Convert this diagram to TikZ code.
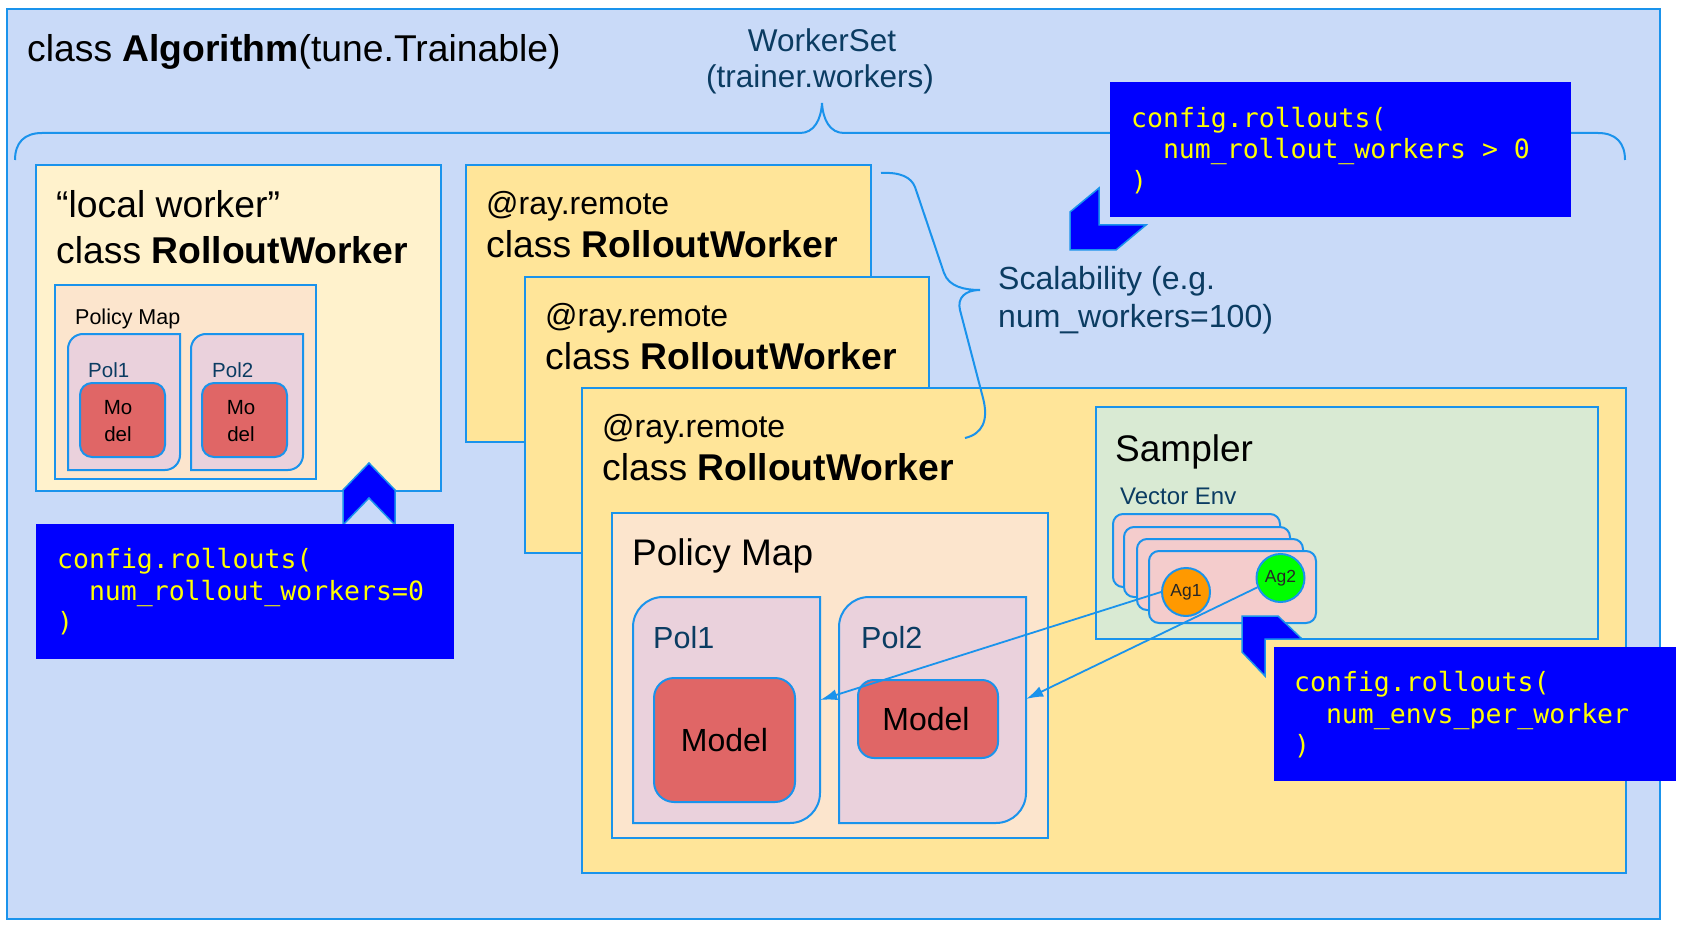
\documentclass[tikz,border=0pt]{standalone}
\usepackage{fontspec}
\setmainfont{Liberation Sans}
\newfontfamily\cfgfont{DejaVu Sans Mono}
\usetikzlibrary{arrows.meta,calc,fit}
\definecolor{bgblue}{HTML}{C9DAF8}
\definecolor{bblue}{HTML}{1A93EC}
\definecolor{lworker}{HTML}{FFF2CC}
\definecolor{rworker}{HTML}{FFE599}
\definecolor{pmapc}{HTML}{FCE5CD}
\definecolor{polc}{HTML}{EAD1DC}
\definecolor{modelc}{HTML}{E06666}
\definecolor{samplerc}{HTML}{D9EAD3}
\definecolor{envc}{HTML}{F4CCCC}
\definecolor{cfgblue}{HTML}{0000FF}
\definecolor{cfgyellow}{HTML}{FFFF00}
\definecolor{navy}{HTML}{0B3C62}
\definecolor{agone}{HTML}{FF9900}
\definecolor{agtwo}{HTML}{00FF00}
\newcommand\fsz[2]{\fontsize{#1pt}{#2pt}\selectfont}
% diagonal-rounded box: x1 y1 x2 y2 r
\newcommand\diagrbox[5]{%
  \draw[polsty] (#1,#4) -- (#1,{#2+#5}) .. controls (#1,{#2+0.448*#5}) and ({#1+0.448*#5},#2) .. ({#1+#5},#2)
   -- (#3,#2) -- (#3,{#4-#5}) .. controls (#3,{#4-0.448*#5}) and ({#3-0.448*#5},#4) .. ({#3-#5},#4) -- cycle;}
\tikzset{
  bd/.style={draw=bblue, line width=2pt},
  box/.style={bd, inner sep=0pt},
  txt/.style={inner sep=0pt, anchor=base west},
  navytxt/.style={txt, text=navy},
  cfgbox/.style={inner sep=0pt, fill=cfgblue},
  cfgtxt/.style={txt, text=cfgyellow, font=\cfgfont\fsz{26.5}{31}},
  chev/.style={draw=bblue, line width=1.5pt, fill=cfgblue, line join=miter},
  brace/.style={draw=bblue, line width=2pt},
  polsty/.style={bd, fill=polc},
  modelbox/.style={box, fill=modelc, rounded corners=#1},
  envbox/.style={box, fill=envc, rounded corners=10pt},
  arr/.style={draw=bblue, line width=1.8pt, -{Latex[length=17pt,width=11pt]}},
}
\begin{document}
\begin{tikzpicture}[x=1pt,y=-1pt]
\useasboundingbox (0,0) rectangle (1687,928);
% outer algorithm box
\node[box, fill=bgblue, line width=2.5pt, fit={(7,9) (1660,919)}] (outer) {};
% WorkerSet brace
\draw[brace] (15,160) .. controls (15,143) and (24,133) .. (42,133) -- (800,133)
  .. controls (814,133) and (821,120) .. (822,103)
  .. controls (823,120) and (830,133) .. (844,133) -- (1598,133)
  .. controls (1616,133) and (1625,143) .. (1625,160);
\node[txt, font=\fsz{37.3}{44}] (title) at (27,62) {class \textbf{Algorithm}(tune.Trainable)};
\node[inner sep=0pt, anchor=base, text=navy, font=\fsz{31.5}{37}] (ws1) at (822,52) {WorkerSet};
\node[inner sep=0pt, anchor=base, text=navy, font=\fsz{31.5}{37}] (ws2) at (820,88) {(trainer.workers)};

% local worker
\node[box, fill=lworker, fit={(36,165) (441,491)}] (local) {};
\node[txt, font=\fsz{37.3}{44}] (lw1) at (56,218) {“local worker”};
\node[txt, font=\fsz{37.3}{44}] (lw2) at (56,263) {class \textbf{RolloutWorker}};
\node[box, fill=pmapc, fit={(55,285) (316,479)}] (lpm) {};
\node[txt, font=\fsz{21.5}{25}] (lpmt) at (75,324) {Policy Map};
\diagrbox{68}{334}{180}{470}{15}
\node[inner sep=0pt, fit={(68,334) (180,470)}] (lpol1) {};
\diagrbox{191}{334}{303}{470}{15}
\node[inner sep=0pt, fit={(191,334) (303,470)}] (lpol2) {};
\node[navytxt, font=\fsz{20.5}{24}] (lpol1t) at (88,377) {Pol1};
\node[navytxt, font=\fsz{20.5}{24}] (lpol2t) at (212,377) {Pol2};
\node[modelbox=12pt, fit={(80,383) (165,457)}] (lmodel1) {};
\node[modelbox=12pt, fit={(202,383) (287,457)}] (lmodel2) {};
\node[inner sep=0pt, align=center, font=\fsz{20.5}{26.7}] (lm1t) at (118,421) {Mo\\del};
\node[inner sep=0pt, align=center, font=\fsz{20.5}{26.7}] (lm2t) at (241,421) {Mo\\del};

% config box 1 with chevron
\draw[chev] (343,490) -- (369,463) -- (395,490) -- (395,525) -- (369,498) -- (343,525) -- cycle;
\node[cfgbox, fit={(36,524) (454,659)}] (cfg1) {};
\node[cfgtxt] (cfg1a) at (57,568.5) {config.rollouts(};
\node[cfgtxt] (cfg1b) at (88.8,600) {num\_rollout\_workers=0};
\node[cfgtxt] (cfg1c) at (57,631.5) {)};

% remote workers
\node[box, fill=rworker, fit={(466,165) (871,442)}] (r1) {};
\node[txt, font=\fsz{32}{38}] (r1a) at (486,215) {@ray.remote};
\node[txt, font=\fsz{37.3}{44}] (r1b) at (486,258) {class \textbf{RolloutWorker}};
\node[box, fill=rworker, fit={(525,277) (929,553)}] (r2) {};
\node[txt, font=\fsz{32}{38}] (r2a) at (545,326) {@ray.remote};
\node[txt, font=\fsz{37.3}{44}] (r2b) at (545,369) {class \textbf{RolloutWorker}};
\node[box, fill=rworker, fit={(582,388) (1626,873)}] (r3) {};
\node[txt, font=\fsz{32}{38}] (r3a) at (602,437) {@ray.remote};
\node[txt, font=\fsz{37.3}{44}] (r3b) at (602,480) {class \textbf{RolloutWorker}};

% scalability brace and text
\draw[brace] (881,173) .. controls (900,172) and (911,177) .. (915,187) -- (944,273)
  .. controls (949,287) and (965,290) .. (980,290)
  .. controls (965,290) and (957,298) .. (960,310) -- (983,398)
  .. controls (989,421) and (982,434) .. (965,438);
\node[navytxt, font=\fsz{32}{38}] (sc1) at (998,290) {Scalability (e.g.};
\node[navytxt, font=\fsz{32}{38}] (sc2) at (998,327.5) {num\_workers=100)};

% config box 2 with chevron
\node[cfgbox, fit={(1110,82) (1571,217)}] (cfg2) {};
\node[cfgtxt] (cfg2a) at (1131,127.5) {config.rollouts(};
\node[cfgtxt] (cfg2b) at (1162.8,159) {num\_rollout\_workers > 0};
\node[cfgtxt] (cfg2c) at (1131,190.5) {)};
\draw[chev] (1070,212) -- (1099,188) -- (1099,225) -- (1146,225) -- (1116,250) -- (1070,250) -- cycle;

% big policy map
\node[box, fill=pmapc, fit={(612,513) (1048,838)}] (pm) {};
\node[txt, font=\fsz{37}{44}] (pmt) at (632,565) {Policy Map};
\diagrbox{633}{597}{820}{823}{30}
\node[inner sep=0pt, fit={(633,597) (820,823)}] (pol1) {};
\diagrbox{839}{597}{1026}{823}{30}
\node[inner sep=0pt, fit={(839,597) (1026,823)}] (pol2) {};
\node[navytxt, font=\fsz{30.5}{36}] (pol1t) at (653,648) {Pol1};
\node[navytxt, font=\fsz{30.5}{36}] (pol2t) at (861,648) {Pol2};
\node[modelbox=20pt, fit={(654,678) (795,802)}] (model1) {};
\node[inner sep=0pt, anchor=base, font=\fsz{32}{38}] (model1t) at (724.5,751.5) {Model};
\node[modelbox=16pt, fit={(858,680) (998,758)}] (model2) {};
\node[inner sep=0pt, anchor=base, font=\fsz{32}{38}] (model2t) at (926,730) {Model};

% sampler
\node[box, fill=samplerc, fit={(1096,407) (1598,639)}] (sampler) {};
\node[txt, font=\fsz{37}{44}] (samplert) at (1115,461.5) {Sampler};
\node[navytxt, font=\fsz{24}{29}] (vecenv) at (1120,504) {Vector Env};
\node[envbox, fit={(1113,514) (1280,587)}] (env1) {};
\node[envbox, fit={(1124,527) (1290,597)}] (env2) {};
\node[envbox, fit={(1137,539) (1303,610)}] (env3) {};
\node[envbox, fit={(1149,551) (1316,623)}] (env4) {};
\node[circle, bd, fill=agone, minimum size=48pt, inner sep=0pt, text=black!85, font=\fsz{17.5}{20}] (ag1) at (1186,592) {Ag1};
\node[circle, bd, fill=agtwo, minimum size=48pt, inner sep=0pt, text=black!85, font=\fsz{17.5}{20}] (ag2) at (1280.5,578) {Ag2};

% connectors
\draw[arr] (ag1.west) -- ([yshift=10pt]pol1.east);
\draw[arr] (ag2.202) -- ([yshift=11pt]pol2.east);

% config box 3 with chevron
\draw[chev] (1242,616) -- (1278,616) -- (1302,639) -- (1265,639) -- (1265,676) -- (1242,652) -- cycle;
\node[cfgbox, fit={(1274,647) (1676,781)}] (cfg3) {};
\node[cfgtxt] (cfg3a) at (1294,691.5) {config.rollouts(};
\node[cfgtxt] (cfg3b) at (1325.8,723) {num\_envs\_per\_worker};
\node[cfgtxt] (cfg3c) at (1294,754.5) {)};
\end{tikzpicture}
\end{document}
